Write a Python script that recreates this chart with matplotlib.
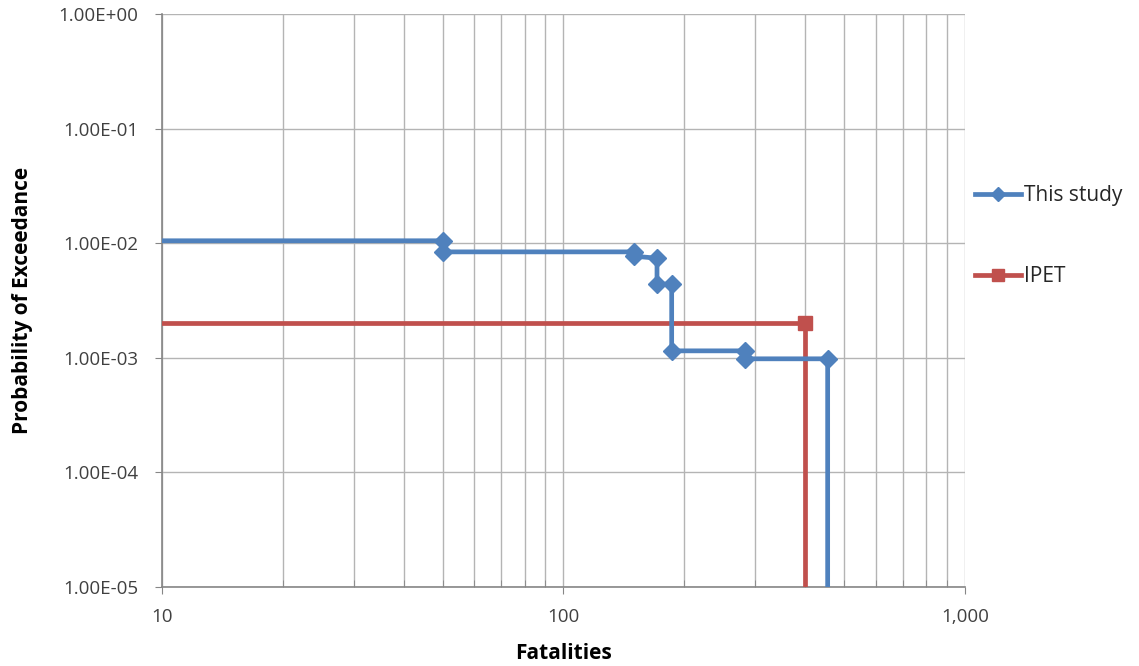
import numpy as np
import matplotlib
matplotlib.use("Agg")
import matplotlib.pyplot as plt
from matplotlib.ticker import FixedLocator, FuncFormatter, NullFormatter

plt.rcParams['font.family'] = ['Open Sans', 'DejaVu Sans']

# This study (step curve)
study_x = [1, 50, 50, 150, 150, 171, 171, 186, 186, 284, 284, 455, 455]
study_y = [0.0105, 0.0105, 0.0084, 0.0084, 0.0077, 0.0074, 0.0044, 0.0044,
           0.00115, 0.00115, 0.00098, 0.00098, 1e-6]
study_mark = list(range(1, 12))

# IPET
ipet_x = [1, 400, 400]
ipet_y = [0.002, 0.002, 1e-6]
ipet_mark = [1]

x_ticks = [10, 100, 1000]
y_ticks = [1e0, 1e-1, 1e-2, 1e-3, 1e-4, 1e-5]

blue = '#4F81BD'
red = '#C0504D'
grid_c = '#B4B4B4'
axis_c = '#868686'

fig = plt.figure(figsize=(11.39, 6.66), dpi=100)
ax = fig.add_axes([0.1422, 0.1186, 0.705, 0.8604])

ax.plot(study_x, study_y, color=blue, lw=3.4, marker='D', markersize=9,
        markevery=study_mark, label='This study', zorder=4)
ax.plot(ipet_x, ipet_y, color=red, lw=3.4, marker='s', markersize=10,
        markevery=ipet_mark, label='IPET', zorder=3)

ax.set_xscale('log')
ax.set_yscale('log')
ax.set_xlim(10, 1000)
ax.set_ylim(1e-5, 1)

ax.xaxis.set_major_locator(FixedLocator(x_ticks))
ax.xaxis.set_major_formatter(FuncFormatter(lambda v, p: f"{int(round(v)):,}"))
minors = [m * d for d in [10, 100] for m in range(2, 10)]
ax.xaxis.set_minor_locator(FixedLocator(minors))
ax.xaxis.set_minor_formatter(NullFormatter())
ax.yaxis.set_major_locator(FixedLocator(y_ticks))
ax.yaxis.set_major_formatter(FuncFormatter(lambda v, p: f"{v:.2E}"))
ax.yaxis.set_minor_locator(FixedLocator([]))

ax.grid(True, which='both', axis='x', color=grid_c, lw=1)
ax.grid(True, which='major', axis='y', color=grid_c, lw=1)
ax.set_axisbelow(True)

for s in ['top', 'right']:
    ax.spines[s].set_visible(False)
for s in ['left', 'bottom']:
    ax.spines[s].set_color(axis_c)
    ax.spines[s].set_linewidth(1.2)

ax.tick_params(axis='both', which='major', direction='out', length=5,
               color=axis_c, labelsize=13.5, labelcolor='#404040')
ax.tick_params(axis='y', which='major', pad=12)
ax.tick_params(axis='x', which='major', pad=10)
ax.tick_params(axis='x', which='minor', direction='in', length=5, color=axis_c)

ax.set_xlabel('Fatalities', fontsize=15, fontweight='bold', labelpad=12)
ax.set_ylabel('Probability of Exceedance', fontsize=15, fontweight='bold', labelpad=18)

leg = ax.legend(loc='upper left', bbox_to_anchor=(1.0, 0.72), frameon=False,
                fontsize=15, labelspacing=2.9, handlelength=2.2, handletextpad=0.15,
                markerscale=0.8, borderaxespad=0.1)
for t in leg.get_texts():
    t.set_color('#262626')

fig.savefig('out.png', dpi=100)
